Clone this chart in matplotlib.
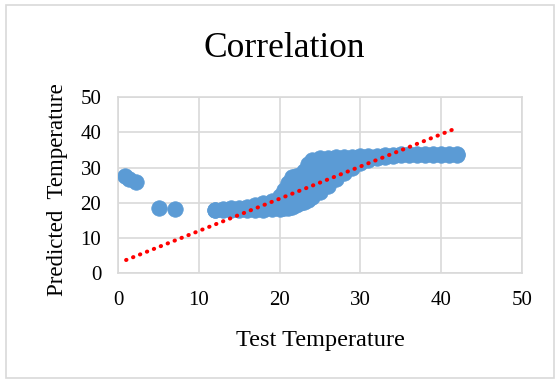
import matplotlib
matplotlib.use("Agg")
import matplotlib.pyplot as plt
from matplotlib.patches import Rectangle

# outlying points at low test temperatures
out_x = [0.9, 1.3, 2.2, 5.1, 7.1]
out_y = [27.5, 26.8, 26.0, 18.4, 18.2]

# main cloud of points: lower and upper edge of the band
blob_x = [12, 13, 14, 15, 16, 17, 18, 19, 20, 20.5, 21, 21.5, 22, 22.5, 23, 23.5,
          24, 25, 26, 27, 28, 29, 30, 31, 32, 33, 34, 35, 36, 37, 38, 39, 40, 41, 42]
blob_lo = [18.0, 17.9, 17.9, 18.0, 18.0, 18.0, 18.0, 18.1, 18.3, 18.4, 18.6, 18.9,
           19.3, 19.8, 20.3, 20.9, 21.5, 23.0, 24.8, 26.6, 28.4, 30.0, 31.2, 32.0,
           32.6, 33.0, 33.3, 33.5, 33.6, 33.6, 33.6, 33.6, 33.6, 33.6, 33.6]
blob_hi = [18.0, 18.2, 18.4, 18.6, 18.9, 19.3, 19.9, 20.6, 21.8, 23.5, 25.5, 27.3,
           27.6, 27.8, 29.0, 31.0, 32.2, 32.6, 32.8, 32.9, 33.0, 33.1, 33.2, 33.3,
           33.4, 33.5, 33.6, 33.7, 33.8, 33.8, 33.8, 33.8, 33.8, 33.8, 33.8]

# linear trendline end points
trend_x = [1, 42]
trend_y = [3.7, 41.3]

ticks = [0, 10, 20, 30, 40, 50]

blue = "#5b9bd5"
grid_col = "#d9d9d9"
serif = ["Liberation Serif", "DejaVu Serif"]
msize = 125

fig = plt.figure(figsize=(5.58, 3.84), dpi=100)
fig.patches.append(Rectangle((0.0108, 0.0156), 0.982, 0.971, transform=fig.transFigure,
                             fill=False, edgecolor=grid_col, linewidth=1.2))

ax = fig.add_axes([0.2115, 0.289, 0.724, 0.458])
ax.set_xlim(0, 50)
ax.set_ylim(0, 50)
ax.set_xticks(ticks)
ax.set_yticks(ticks)
ax.grid(True, color=grid_col, linewidth=1.2)
ax.set_axisbelow(True)
for s in ax.spines.values():
    s.set_color(grid_col)
    s.set_linewidth(1.2)
ax.tick_params(length=0, labelsize=15, colors="#000000")
ax.tick_params(axis="x", pad=13)
ax.tick_params(axis="y", pad=12)
for lab in ax.get_xticklabels() + ax.get_yticklabels():
    lab.set_family(serif)

ax.fill_between(blob_x, blob_lo, blob_hi, color=blue, linewidth=0, zorder=2)
ax.scatter(blob_x, blob_lo, s=msize, color=blue, edgecolors=blue, linewidths=0.5, zorder=3)
ax.scatter(blob_x, blob_hi, s=msize, color=blue, edgecolors=blue, linewidths=0.5, zorder=3)
ax.scatter(out_x, out_y, s=msize, color=blue, edgecolors=blue, linewidths=0.5, zorder=3)

ax.plot(trend_x, trend_y, color="#ff0000", linewidth=2.9, linestyle=(0, (0.1, 1.75)),
        dash_capstyle="round", zorder=4)

fig.text(0.509, 0.852, "Correlation", family=serif, fontsize=25.5,
         ha="center", va="baseline")
fig.text(0.575, 0.1, "Test Temperature", family=serif, fontsize=17.5,
         ha="center", va="baseline")
fig.text(0.103, 0.505, "Predicted  Temperature", family=serif, fontsize=16.5,
         ha="center", va="center", rotation=90)

fig.savefig("out.png", dpi=100)
